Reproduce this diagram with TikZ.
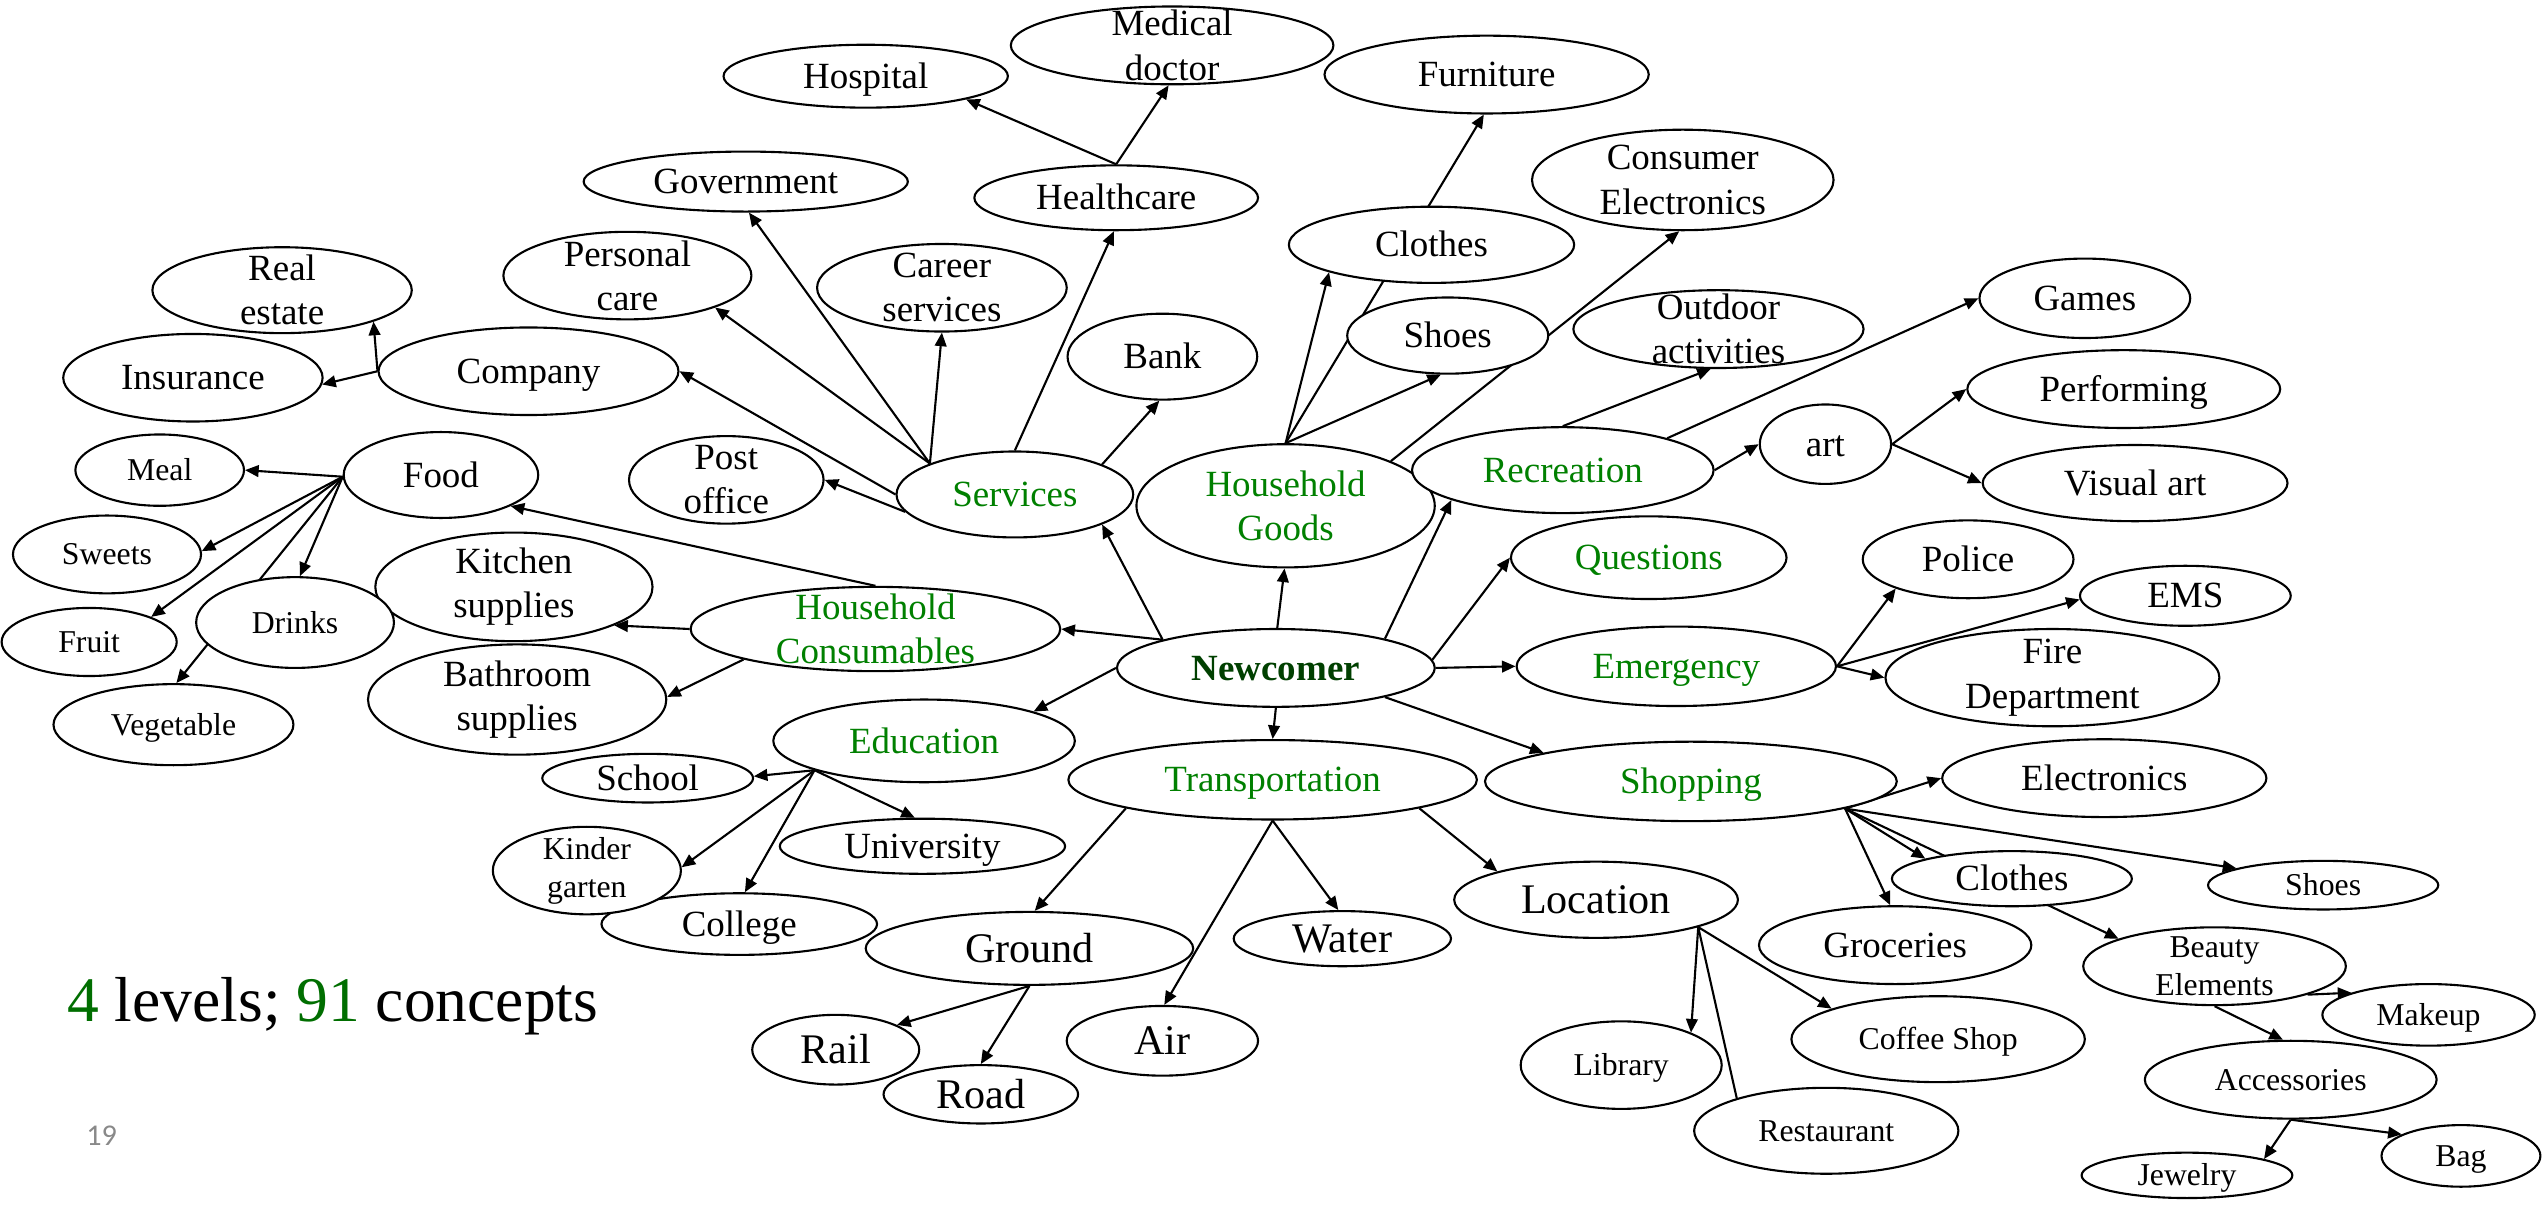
\documentclass[tikz,border=0pt]{standalone}
\usepackage{fontspec}
\setmainfont{Liberation Serif}
\newfontfamily\pagefont{Carlito}
\usetikzlibrary{shapes.geometric,arrows.meta,backgrounds}
\definecolor{cgreen}{RGB}{0,128,0}
\definecolor{cdark}{RGB}{0,64,0}
\definecolor{cnum}{RGB}{0,110,0}
\definecolor{cpage}{RGB}{137,137,137}
\newcommand{\szmain}{\fontsize{11.4}{13.6}\selectfont}
\newcommand{\szsmall}{\fontsize{9.8}{11.8}\selectfont}
\newcommand{\szlarge}{\fontsize{13}{15.6}\selectfont}
\tikzset{
  concept/.style={ellipse, draw, fill=white, line width=0.65pt, inner xsep=0pt, inner ysep=-5pt, align=center, font=\szmain, text height=10pt, text depth=2.5pt},
  cat/.style={concept, text=cgreen},
  smalltxt/.style={font=\szsmall, text height=8.7pt, text depth=2.2pt},
  largetxt/.style={font=\szlarge, text height=11.5pt, text depth=2.9pt},
  twoline/.style={text height=, text depth=},
  sz/.style 2 args={minimum width=#1pt, minimum height=#2pt},
  link/.style={-{Triangle[length=4.2pt,width=3.6pt]}, line width=0.65pt},
}
\begin{document}
\begin{tikzpicture}[x=0.5pt,y=0.5pt,yscale=-1,xscale=1]
                  \useasboundingbox (0,0) rectangle (1568,743);

                  \node[concept, text=cdark, font=\szmain\bfseries, sz={98}{24}] (new) at (787,412) {Newcomer};
                  \node[cat, sz={73}{26.5}] (serv) at (626,305) {Services};
                  \node[cat, twoline, sz={92}{38}] (hgoods) at (793,312) {Household\\Goods};
                  \node[cat, sz={93}{26.5}] (recr) at (964,290) {Recreation};
                  \node[cat, sz={85}{25.5}] (quest) at (1017,344) {Questions};
                  \node[cat, sz={98.5}{24.5}] (emer) at (1034,411) {Emergency};
                  \node[cat, sz={127}{24.5}] (shop) at (1043,482) {Shopping};
                  \node[cat, sz={126}{24.5}] (trans) at (785,481) {Transportation};
                  \node[cat, sz={93}{25.5}] (educ) at (570,457) {Education};
                  \node[cat, twoline, sz={114}{26}] (hcons) at (540,388) {Household\\Consumables};

                  \node[concept, twoline, sz={60}{27}] (post) at (448,296) {Post\\office};
                  \node[concept, sz={92.5}{27}] (comp) at (326,229) {Company};
                  \node[concept, twoline, sz={76.5}{27}] (pcare) at (387,170) {Personal\\care};
                  \node[concept, sz={100}{18.5}] (gov) at (460,112) {Government};
                  \node[concept, twoline, sz={77}{27}] (career) at (581,177.5) {Career\\services};
                  \node[concept, sz={87.5}{20}] (health) at (688.5,122) {Healthcare};
                  \node[concept, sz={58.5}{26.5}] (bank) at (717,220) {Bank};
                  \node[concept, sz={87.7}{19.4}] (hosp) at (534,47) {Hospital};
                  \node[concept, twoline, sz={99.5}{24}] (mdoc) at (723,28) {Medical\\doctor};
                  \node[concept, sz={80}{27}] (insur) at (119,233) {Insurance};
                  \node[concept, twoline, sz={80}{26.5}] (real) at (174,179) {Real\\estate};

                  \node[concept, sz={60}{26.5}] (food) at (272,293) {Food};
                  \node[concept, twoline, sz={92}{34}] (bath) at (319,431.5) {Bathroom\\supplies};
                  \node[concept, twoline, sz={85.5}{33.5}] (kitch) at (317,362) {Kitchen\\supplies};
                  \node[concept, smalltxt, sz={52}{22}] (meal) at (98.5,290) {Meal};
                  \node[concept, smalltxt, sz={58}{24}] (sweets) at (66,342) {Sweets};
                  \node[concept, smalltxt, sz={54}{21}] (fruit) at (55,396) {Fruit};
                  \node[concept, smalltxt, sz={61}{28}] (drinks) at (182,384) {Drinks};
                  \node[concept, smalltxt, sz={74}{25}] (veg) at (107,447) {Vegetable};

                  \node[concept, sz={65}{15}] (school) at (399.5,480) {School};
                  \node[concept, sz={85}{19}] (college) at (456,570) {College};
                  \node[concept, smalltxt, twoline, sz={58}{27}] (kinder) at (362,537) {Kinder\\garten};
                  \node[concept, sz={88}{17}] (univ) at (569,522) {University};

                  \node[concept, largetxt, sz={101}{22.5}] (ground) at (635,585) {Ground};
                  \node[concept, largetxt, sz={59}{21.5}] (air) at (717,642) {Air};
                  \node[concept, largetxt, sz={67}{17}] (water) at (828,579) {Water};
                  \node[concept, largetxt, sz={87.5}{23.5}] (loc) at (984.5,555) {Location};
                  \node[concept, largetxt, sz={51.5}{21.5}] (rail) at (515.5,647.5) {Rail};
                  \node[concept, largetxt, sz={60}{18}] (road) at (605,675) {Road};
                  \node[concept, smalltxt, sz={62}{27}] (library) at (1000,657) {Library};
                  \node[concept, smalltxt, sz={81.5}{26.5}] (rest) at (1126.5,697.5) {Restaurant};
                  \node[concept, smalltxt, sz={90.5}{26.5}] (coffee) at (1195.5,641) {Coffee Shop};

                  \node[concept, sz={100}{24}] (elec) at (1298,480) {Electronics};
                  \node[concept, sz={84}{24}] (groc) at (1169,583) {Groceries};
                  \node[concept, sz={74}{17}] (sclothes) at (1241,542) {Clothes};
                  \node[concept, smalltxt, sz={71}{15}] (sshoes) at (1433,546) {Shoes};
                  \node[concept, smalltxt, sz={65.5}{19}] (makeup) at (1498,626) {Makeup};
                  \node[concept, smalltxt, twoline, sz={81}{24}] (beauty) at (1366,596) {Beauty\\Elements};
                  \node[concept, smalltxt, sz={90}{24}] (access) at (1413,666) {Accessories};
                  \node[concept, smalltxt, sz={65}{14}] (jewel) at (1349,725) {Jewelry};
                  \node[concept, smalltxt, sz={49}{19}] (bag) at (1518,713) {Bag};

                  \node[concept, sz={65}{24}] (police) at (1214,345) {Police};
                  \node[concept, sz={65}{18.5}] (ems) at (1348,367.5) {EMS};
                  \node[concept, twoline, sz={103}{30}] (fire) at (1266,418) {Fire\\Department};

                  \node[concept, twoline, sz={89.5}{24}] (outdoor) at (1060,203) {Outdoor\\activities};
                  \node[concept, sz={65}{24.5}] (games) at (1286,184) {Games};
                  \node[concept, sz={40.5}{24.5}] (art) at (1126,274) {art};
                  \node[concept, sz={96.5}{24}] (perf) at (1310,240) {Performing};
                  \node[concept, sz={94}{23.5}] (visual) at (1317,298) {Visual art};

                  \node[concept, sz={88}{23.5}] (hclothes) at (883,151) {Clothes};
                  \node[concept, sz={62}{23.5}] (hshoes) at (893,207) {Shoes};
                  \node[concept, sz={100}{24}] (furn) at (917,46) {Furniture};
                  \node[concept, twoline, sz={93}{31}] (celec) at (1038,111) {Consumer\\Electronics};

                  \node[anchor=base west, inner sep=0pt, font=\fontsize{19.6}{23.5}\selectfont] (summary) at (41,630) {\textcolor{cnum}{4} levels; \textcolor{cnum}{91} concepts};
                  \node[inner sep=0pt, text=cpage, font=\pagefont\fontsize{9.3}{11}\selectfont] (pagenum) at (62.75,700.3) {19};

                  \begin{pgfonlayer}{background}
                  \draw[link] (new.166) -- (serv.341);
                  \draw[link] (new.88) -- (hgoods.269);
                  \draw[link] (new.15) -- (recr.195);
                  \draw[link] (new.3) -- (quest.180);
                  \draw[link] (new.0) -- (emer.180);
                  \draw[link] (new.345) -- (shop.169);
                  \draw[link] (new.270) -- (trans.90);
                  \draw[link] (new.180) -- (educ.15);
                  \draw[link] (new.166) -- (hcons.0);

                  \draw[link] (serv.189) -- (post.0);
                  \draw[link] (serv.180) -- (comp.0);
                  \draw[link] (serv.160) -- (pcare.340);
                  \draw[link] (serv.160) -- (gov.276);
                  \draw[link] (serv.160) -- (career.270);
                  \draw[link] (serv.90) -- (health.266);
                  \draw[link] (serv.19) -- (bank.266);
                  \draw[link] (health.90) -- (hosp.347);
                  \draw[link] (health.90) -- (mdoc.265);
                  \draw[link] (comp.180) -- (insur.357);
                  \draw[link] (comp.180) -- (real.341);

                  \draw[link] (hcons.90) -- (food.336);
                  \draw[link] (hcons.180) -- (kitch.339);
                  \draw[link] (hcons.193) -- (bath.1);
                  \draw[link] (food.181) -- (meal.0);
                  \draw[link] (food.181) -- (sweets.2);
                  \draw[link] (food.181) -- (fruit.22);
                  \draw[link] (food.181) -- (drinks.84);
                  \draw[link] (food.181) -- (veg.86);

                  \draw[link] (educ.195) -- (school.1);
                  \draw[link] (educ.195) -- (kinder.2);
                  \draw[link] (educ.195) -- (college.80);
                  \draw[link] (educ.195) -- (univ.105);

                  \draw[link] (trans.191) -- (ground.82);
                  \draw[link] (trans.270) -- (air.87);
                  \draw[link] (trans.270) -- (water.98);
                  \draw[link] (trans.349) -- (loc.164);
                  \draw[link] (ground.270) -- (rail.22);
                  \draw[link] (ground.270) -- (road.90);
                  \draw[link] (loc.345) -- (library.25);
                  \draw[line width=0.65pt] (loc.345) -- (rest.160);
                  \draw[link] (loc.345) -- (coffee.164);

                  \draw[link] (shop.350) -- (elec.180);
                  \draw[link] (shop.350) -- (sclothes.167);
                  \draw[link] (shop.350) -- (beauty.164);
                  \draw[link] (shop.350) -- (sshoes.169);
                  \draw[link] (shop.350) -- (groc.97);
                  \draw[link] (beauty.343) -- (makeup.164);
                  \draw[link] (beauty.270) -- (access.101);
                  \draw[link] (access.270) -- (jewel.12);
                  \draw[link] (access.270) -- (bag.160);

                  \draw[link] (emer.0) -- (police.202);
                  \draw[link] (emer.0) -- (ems.182);
                  \draw[link] (emer.0) -- (fire.180);

                  \draw[link] (recr.0) -- (art.180);
                  \draw[link] (recr.17) -- (games.180);
                  \draw[link] (recr.90) -- (outdoor.259);
                  \draw[link] (art.0) -- (perf.180);
                  \draw[link] (art.0) -- (visual.180);

                  \draw[link] (hgoods.90) -- (hclothes.195);
                  \draw[link] (hgoods.90) -- (hshoes.260);
                  \draw[link] (hgoods.90) -- (furn.266);
                  \draw[link] (hgoods.23) -- (celec.266);
                  \end{pgfonlayer}
              \end{tikzpicture}
\end{document}
